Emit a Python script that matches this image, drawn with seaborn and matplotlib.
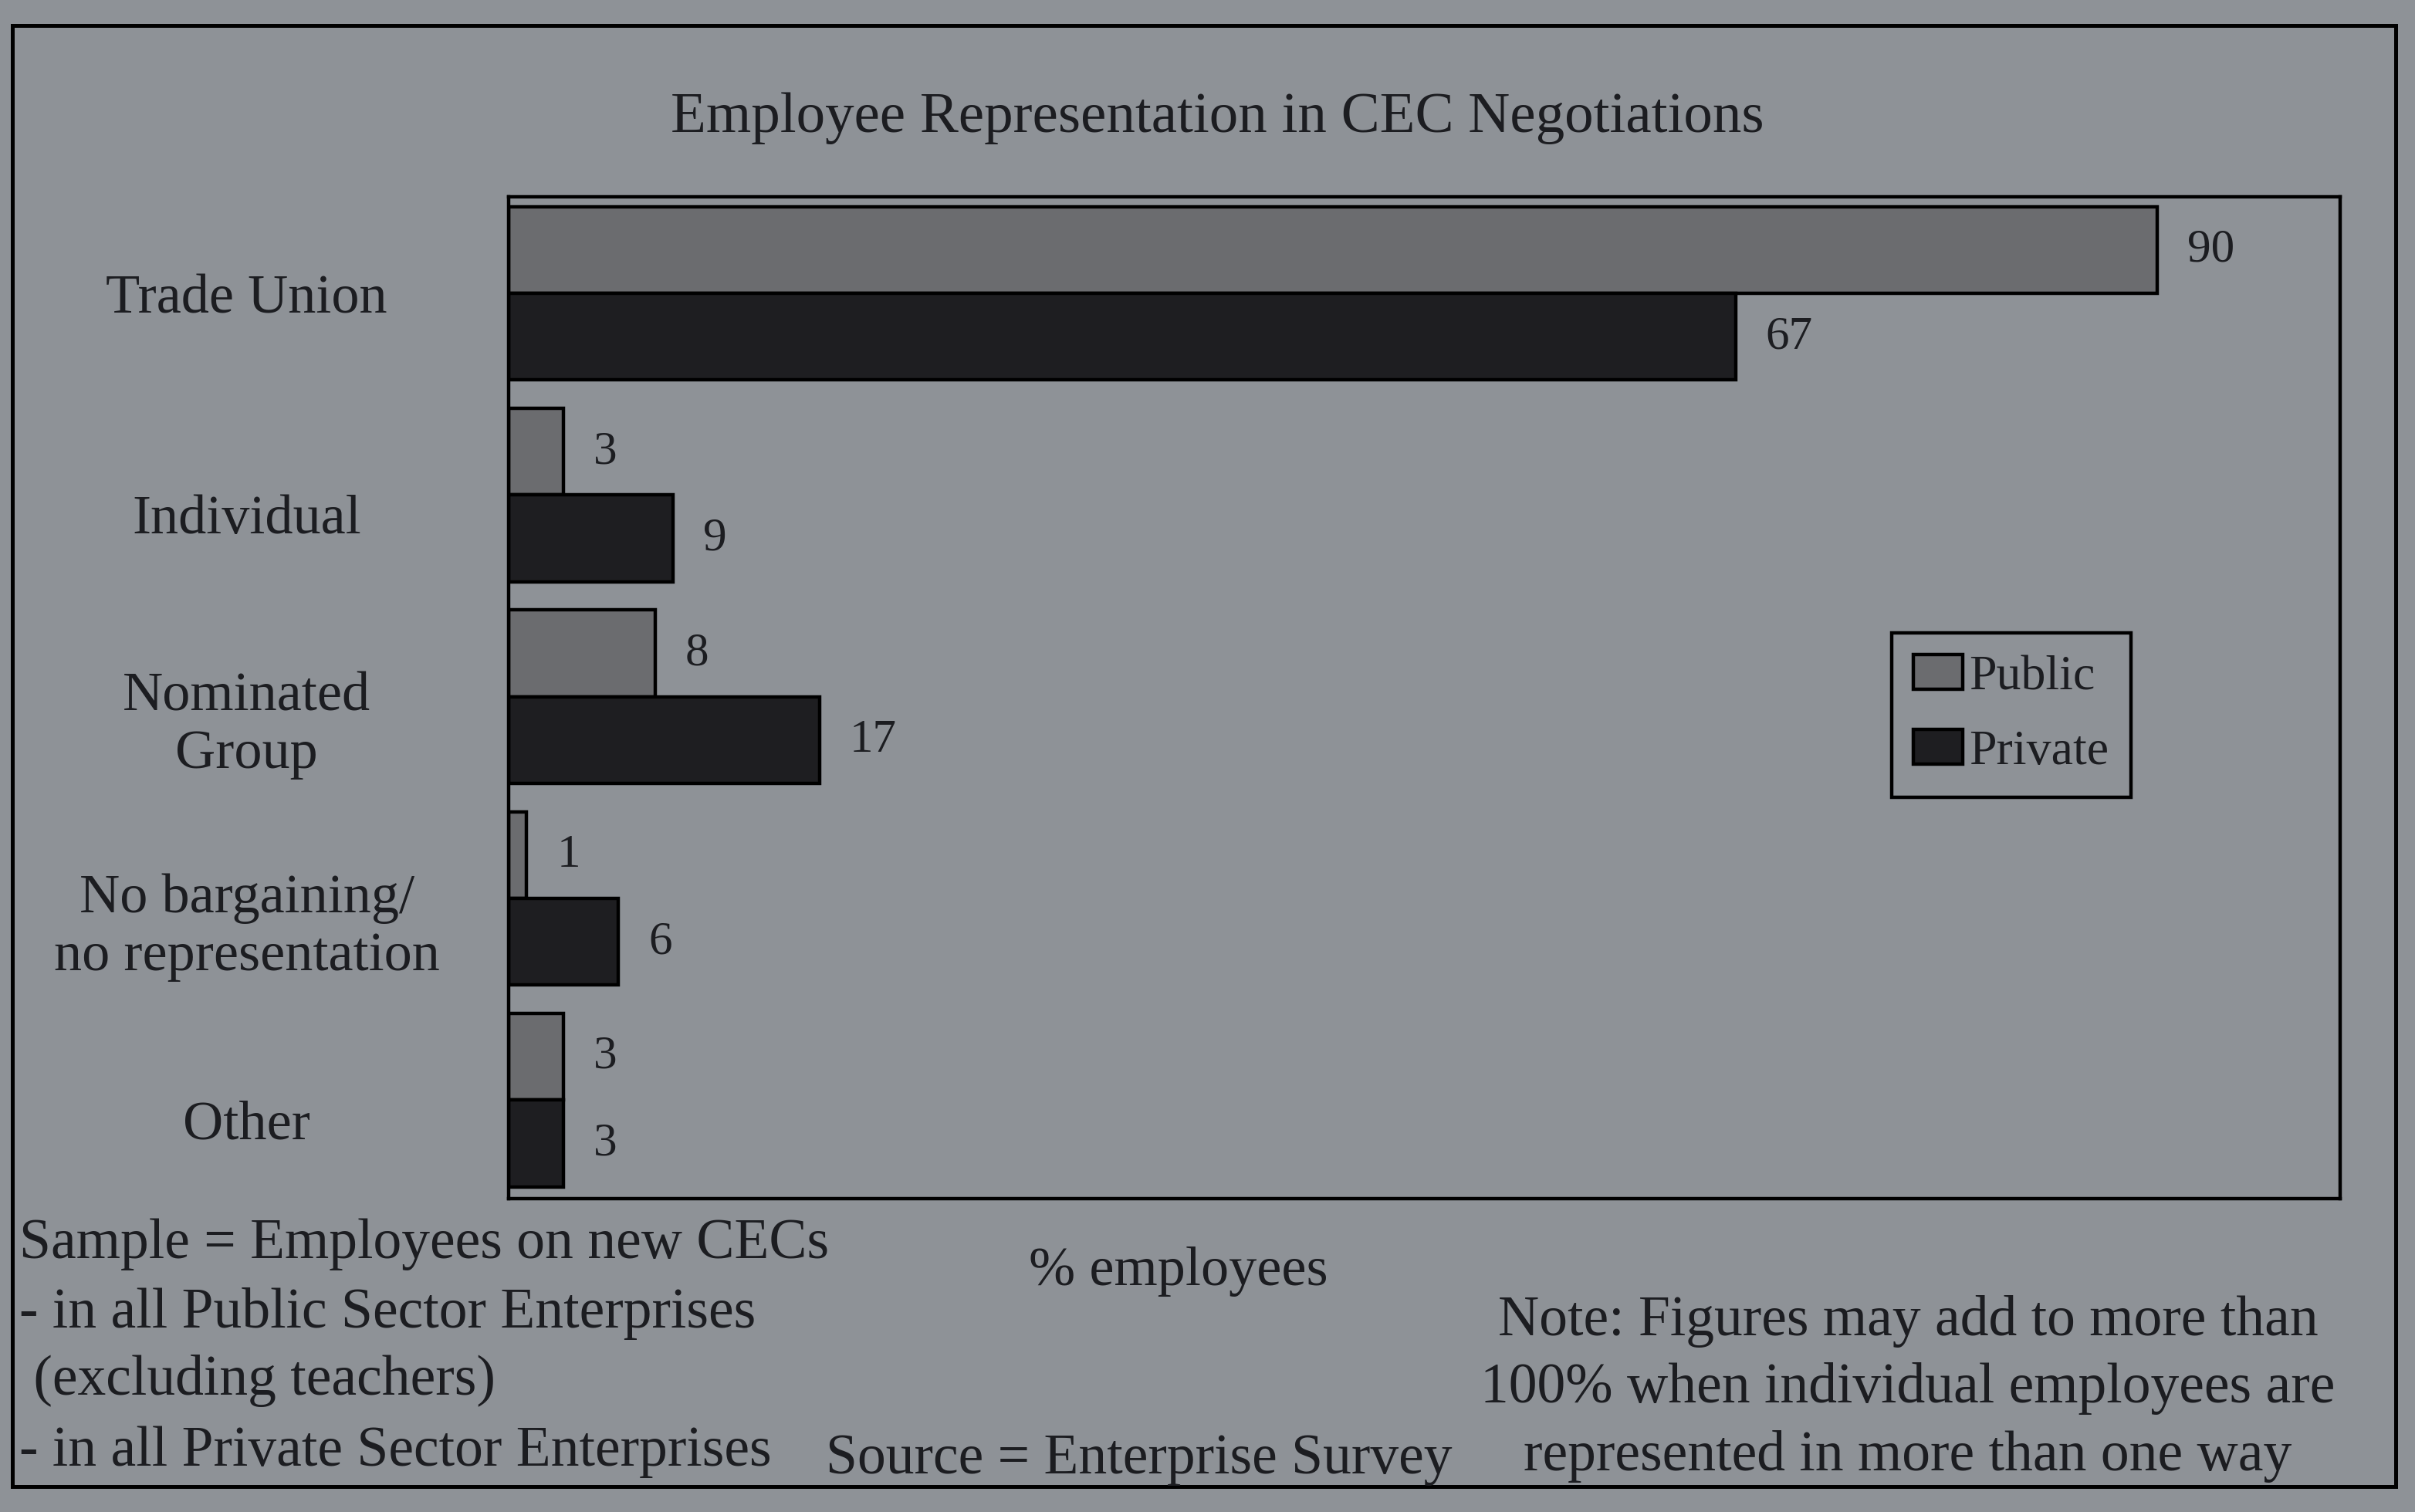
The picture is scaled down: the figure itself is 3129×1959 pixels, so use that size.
import matplotlib
matplotlib.use("Agg")
import matplotlib.pyplot as plt
import matplotlib.transforms as mtransforms
import seaborn as sns
import pandas as pd
from matplotlib.patches import Rectangle

# Survey results: % of employees by form of representation
categories = ["Trade Union", "Individual", "Nominated\nGroup",
              "No bargaining/\nno representation", "Other"]
public_pct = [90, 3, 8, 1, 3]
private_pct = [67, 9, 17, 6, 3]
sectors = ["Public", "Private"]

df = pd.DataFrame({
    "category": categories * 2,
    "value": public_pct + private_pct,
    "sector": [sectors[0]] * len(categories) + [sectors[1]] * len(categories),
})

PAPER = "#8e9297"
INK = "#1c1d21"
PUBLIC_C = "#6a6c70"
PRIVATE_C = "#1d1d21"

sns.set_style("white")
plt.rcParams["font.family"] = ["Liberation Serif", "DejaVu Serif"]
plt.rcParams["text.color"] = INK
plt.rcParams["axes.labelcolor"] = INK
plt.rcParams["xtick.color"] = INK
plt.rcParams["ytick.color"] = INK

fig = plt.figure(figsize=(15.645, 9.795), dpi=200, facecolor=PAPER)
ax = fig.add_axes([0.2105, 0.207, 0.7585, 0.663])
ax.set_facecolor(PAPER)

sns.barplot(data=df, x="value", y="category", hue="sector", orient="h",
            palette={"Public": PUBLIC_C, "Private": PRIVATE_C},
            edgecolor="black", linewidth=1.6, width=0.86, ax=ax)

ax.set_xlim(0, 100)
ax.set_ylim(4.49, -0.48)

for cont in ax.containers:
    ax.bar_label(cont, fmt="%g", padding=14, fontsize=22, color=INK)

for sp in ax.spines.values():
    sp.set_visible(True)
    sp.set_color("black")
    sp.set_linewidth(1.6)

ax.set_xticks([])
ax.tick_params(axis="y", length=0, pad=122, labelsize=26)
shift_down = mtransforms.ScaledTranslation(0, -9 / 72, fig.dpi_scale_trans)
for i, lab in enumerate(ax.get_yticklabels()):
    lab.set_ha("center")
    lab.set_multialignment("center")
    if i > 0:
        lab.set_transform(lab.get_transform() + shift_down)
ax.set_ylabel("")
ax.set_xlabel("")

handles, labels = ax.get_legend_handles_labels()
leg = ax.legend(handles, labels, loc="upper left", bbox_to_anchor=(0.755, 0.565),
                fontsize=23, frameon=True, fancybox=False, framealpha=1,
                facecolor=PAPER, edgecolor="black", handlelength=1.0,
                handleheight=0.7, handletextpad=0.12, labelspacing=0.6,
                borderpad=0.45, borderaxespad=0)
leg.get_frame().set_linewidth(1.6)
for t in leg.get_texts():
    t.set_color(INK)

# Title and surrounding notes
fig.text(0.504, 0.922, "Employee Representation in CEC Negotiations",
         ha="center", va="center", fontsize=27)
fig.text(0.488, 0.159, "% employees", ha="center", va="center", fontsize=26)

left_lines = [("Sample = Employees on new CECs", 0.008, 808),
              ("- in all Public Sector Enterprises", 0.008, 853),
              (" (excluding teachers)", 0.008, 897),
              ("- in all Private Sector Enterprises", 0.008, 943)]
for txt, x, ypx in left_lines:
    fig.text(x, 1 - ypx / 982, txt, ha="left", va="center", fontsize=26.5)

fig.text(0.342, 1 - 948 / 982, "Source = Enterprise Survey",
         ha="left", va="center", fontsize=26.5)

note_lines = [("Note: Figures may add to more than", 858),
              ("100% when individual employees are", 902),
              ("represented in more than one way", 946)]
for txt, ypx in note_lines:
    fig.text(0.79, 1 - ypx / 982, txt, ha="center", va="center", fontsize=26.5)

# Outer frame of the figure panel
fig.patches.append(Rectangle((0.005, 0.017), 0.987, 0.966, transform=fig.transFigure,
                             fill=False, edgecolor="black", linewidth=1.8))

fig.savefig("out.png", dpi=200, facecolor=PAPER)
